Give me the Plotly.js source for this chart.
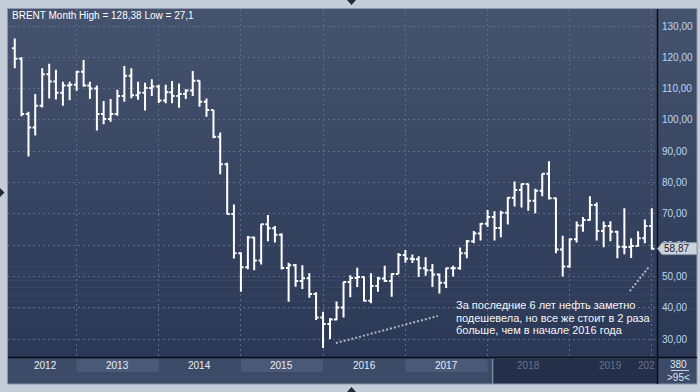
<!DOCTYPE html>
<html><head><meta charset="utf-8">
<script src="https://cdn.plot.ly/plotly-3.0.1.min.js"></script>
<style>html,body{margin:0;padding:0;background:#c4ccd8;}#chart{width:700px;height:392px;}</style>
</head><body><div id="chart"></div>
<script>
// ---- DATA (monthly Brent OHLC) ----
const months = [
 "2012-04","2012-05","2012-06","2012-07","2012-08","2012-09","2012-10","2012-11","2012-12",
 "2013-01","2013-02","2013-03","2013-04","2013-05","2013-06","2013-07","2013-08","2013-09","2013-10","2013-11","2013-12",
 "2014-01","2014-02","2014-03","2014-04","2014-05","2014-06","2014-07","2014-08","2014-09","2014-10","2014-11","2014-12",
 "2015-01","2015-02","2015-03","2015-04","2015-05","2015-06","2015-07","2015-08","2015-09","2015-10","2015-11","2015-12",
 "2016-01","2016-02","2016-03","2016-04","2016-05","2016-06","2016-07","2016-08","2016-09","2016-10","2016-11","2016-12",
 "2017-01","2017-02","2017-03","2017-04","2017-05","2017-06","2017-07","2017-08","2017-09","2017-10","2017-11","2017-12",
 "2018-01","2018-02","2018-03","2018-04","2018-05","2018-06","2018-07","2018-08","2018-09","2018-10","2018-11","2018-12",
 "2019-01","2019-02","2019-03","2019-04","2019-05","2019-06","2019-07","2019-08","2019-09","2019-10","2019-11","2019-12",
 "2020-01"];
const openP = [
 122.9,119.5,101.9,97.6,104.5,114.6,112.3,108.7,111.0,
 111.2,115.4,111.0,110.0,101.9,100.3,101.9,107.6,114.1,107.9,108.7,110.2,
 110.7,106.2,108.8,107.6,108.3,109.4,112.5,105.8,103.2,94.6,85.8,69.9,
 57.4,52.9,62.4,55.1,66.7,65.4,63.3,52.7,53.6,48.5,49.4,44.4,
 36.9,34.8,36.2,40.1,48.2,49.5,49.8,42.2,46.9,49.3,48.5,50.8,
 56.8,55.6,55.5,52.6,52.0,50.6,48.0,52.6,52.6,57.4,61.2,63.7,
 66.8,69.0,65.5,70.3,75.1,77.6,79.5,74.2,77.4,82.8,75.0,58.6,
 53.2,61.9,66.3,68.0,72.8,64.5,66.1,64.3,59.5,59.4,59.7,62.2,
 66.1];
const highP = [
 126.0,120.0,102.6,108.3,116.5,117.9,116.0,112.2,112.2,
 115.6,119.1,112.2,111.0,106.0,106.7,109.6,117.2,116.5,112.2,111.9,113.0,
 111.2,111.2,112.4,111.6,109.8,115.6,112.6,106.8,103.2,96.0,86.3,73.0,
 57.7,62.9,62.7,66.8,69.6,66.1,63.8,54.4,54.0,53.6,51.0,44.9,
 38.7,36.7,42.0,48.3,50.4,52.8,50.0,51.0,49.9,53.4,51.0,57.5,
 58.4,57.0,56.4,56.1,54.0,50.9,52.8,53.4,59.2,61.6,64.5,67.1,
 71.2,70.8,71.0,75.4,80.3,79.7,79.6,78.0,82.9,86.8,75.2,63.0,
 62.2,67.5,69.0,75.6,73.6,67.5,67.6,64.6,71.8,62.2,64.4,68.2,
 71.8];
const lowP = [
 116.5,101.2,88.3,95.0,104.0,106.8,106.5,104.5,106.3,
 109.3,110.6,106.7,96.6,98.6,99.4,101.3,105.8,106.9,106.4,103.0,107.6,
 105.4,105.3,105.3,103.9,106.7,107.6,104.2,101.0,94.1,82.6,69.8,55.7,
 45.1,52.3,52.0,53.8,61.2,60.8,52.2,41.9,46.7,46.0,43.2,36.1,
 27.1,30.0,36.0,36.9,43.3,46.6,42.0,41.4,45.1,48.2,43.5,50.8,
 54.4,54.3,49.8,50.2,46.6,44.5,46.3,50.0,52.1,55.8,60.6,61.5,
 65.8,61.5,62.5,66.6,72.3,72.0,71.0,70.2,75.6,74.6,57.4,50.0,
 52.8,60.8,64.3,67.8,61.5,59.3,61.2,55.8,57.1,55.9,59.5,60.6,
 58.6];
const closeP = [
 119.5,101.9,97.6,104.5,114.6,112.3,108.7,111.0,111.2,
 115.4,111.0,110.0,101.9,100.3,101.9,107.6,114.1,107.9,108.7,110.2,110.7,
 106.2,108.8,107.6,108.3,109.4,112.5,105.8,103.2,94.6,85.8,69.9,57.4,
 52.9,62.4,55.1,66.7,65.4,63.3,52.7,53.6,48.5,49.4,44.4,36.9,
 34.8,36.2,40.1,48.2,49.5,49.8,42.2,46.9,49.3,48.5,50.8,56.8,
 55.6,55.5,52.6,52.0,50.6,48.0,52.6,52.6,57.4,61.2,63.7,66.8,
 69.0,65.5,70.3,75.1,77.6,79.5,74.2,77.4,82.8,75.0,58.6,53.2,
 61.9,66.3,68.0,72.8,64.5,66.1,64.3,59.5,59.4,59.7,62.2,66.1,
 58.87];
const yearLabels = ["2012","2013","2014","2015","2016","2017","2018","2019","2020"];
const titleText = "BRENT Month High = 128,38 Low = 27,1";
const noteLines = ["За последние 6 лет нефть заметно",
                   "подешевела, но все же стоит в 2 раза",
                   "больше, чем в начале 2016 года"];
const cornerTop = "380", cornerBottom = ">95<";

// ---- GEOMETRY HELPERS ----
const L = 8, R = 657, T = 9, B = 357;
const PW = R - L, PH = B - T;
const px = x => (x - L) / PW;
const py = y => (B - y) / PH;
const xRange = ["2012-03-02", "2020-01-24"];
const yRange = [24.25, 135.43];

const shapes = [];
// gradient background (strips)
const cTop = [70, 83, 110], cBot = [43, 56, 86];
const N = 50, g0 = 8, g1 = 357;
for (let i = 0; i < N; i++) {
  const y0 = g0 + i * (g1 - g0) / N, y1 = y0 + (g1 - g0) / N + 0.6;
  const t = i / (N - 1);
  const c = cTop.map((v, k) => Math.round(v + (cBot[k] - v) * t));
  shapes.push({type:'rect', xref:'paper', yref:'paper', x0:px(7), x1:px(697), y0:py(Math.min(y1, g1)), y1:py(y0),
    fillcolor:`rgb(${c[0]},${c[1]},${c[2]})`, line:{width:0}, layer:'below'});
}
// bottom band
shapes.push({type:'rect', xref:'paper', yref:'paper', x0:px(7), x1:px(697), y0:py(384), y1:py(357),
  fillcolor:'#3c4b67', line:{width:0}, layer:'below'});
yearLabels.forEach((yl, i) => {
  if (i % 2 === 1 && +yl < 2018) {
    shapes.push({type:'rect', xref:'x', yref:'paper', x0:`${yl}-01-01`, x1:`${+yl + 1}-01-01`,
      y0:py(372), y1:py(359), fillcolor:'#4a5977', line:{width:0}, layer:'below'});
  }
});
// dark (inactive) region of the time band
shapes.push({type:'rect', xref:'paper', yref:'paper', x0:px(494), x1:px(657), y0:py(384), y1:py(359),
  fillcolor:'#24304a', line:{width:0}, layer:'below'});
shapes.push({type:'line', xref:'paper', yref:'paper', x0:px(492.5), x1:px(492.5), y0:py(384), y1:py(359),
  line:{color:'#7f8ca3', width:1}, layer:'below'});
// frame outline
shapes.push({type:'rect', xref:'paper', yref:'paper', x0:px(7.5), x1:px(697), y0:py(384), y1:py(8.5),
  fillcolor:'rgba(0,0,0,0)', line:{color:'#8d98ac', width:1}, layer:'below'});
// axis separator lines
shapes.push({type:'line', xref:'paper', yref:'paper', x0:px(8), x1:px(697), y0:py(357.5), y1:py(357.5),
  line:{color:'#0a0e16', width:1.5}, layer:'above'});
shapes.push({type:'line', xref:'paper', yref:'paper', x0:px(657.5), x1:px(657.5), y0:py(384), y1:py(9),
  line:{color:'#0a0e16', width:1.5}, layer:'above'});
// corner divider
shapes.push({type:'line', xref:'paper', yref:'paper', x0:px(671), x1:px(689), y0:py(370.5), y1:py(370.5),
  line:{color:'#c9d2df', width:1}, layer:'above'});
// dotted trend lines (drawn by the author)
shapes.push({type:'line', xref:'x', yref:'y', x0:'2016-02-27', y0:28.7, x1:'2017-05-25', y1:37.35,
  line:{color:'#aeb6c4', width:2, dash:'2px,2px'}, layer:'above'});
shapes.push({type:'line', xref:'x', yref:'y', x0:'2019-09-25', y0:45.3, x1:'2019-12-22', y1:53.3,
  line:{color:'#aeb6c4', width:2, dash:'2px,2px'}, layer:'above'});
// last price marker
const lastC = closeP[closeP.length - 1];
const hh = 1.9;
shapes.push({type:'path', xref:'paper', yref:'y', layer:'above',
  path:`M ${px(657.5)},${lastC} L ${px(662)},${lastC + hh} L ${px(697)},${lastC + hh} L ${px(697)},${lastC - hh} L ${px(662)},${lastC - hh} Z`,
  fillcolor:'#cdd3dc', line:{color:'#8e99aa', width:1}});
// splitter handles
shapes.push({type:'path', xref:'paper', yref:'paper', layer:'above',
  path:`M ${px(347)},${py(0)} L ${px(356)},${py(0)} L ${px(351.5)},${py(5)} Z`, fillcolor:'#1e2840', line:{width:0}});
shapes.push({type:'path', xref:'paper', yref:'paper', layer:'above',
  path:`M ${px(347)},${py(392)} L ${px(356)},${py(392)} L ${px(351.5)},${py(387)} Z`, fillcolor:'#1e2840', line:{width:0}});
shapes.push({type:'path', xref:'paper', yref:'paper', layer:'above',
  path:`M ${px(0)},${py(188)} L ${px(0)},${py(197)} L ${px(4.5)},${py(192.5)} Z`, fillcolor:'#1e2840', line:{width:0}});

// ---- ANNOTATIONS ----
const FONT = 'Liberation Sans, Arial, sans-serif';
const ann = [];
ann.push({xref:'paper', yref:'paper', x:px(10), y:py(15), xanchor:'left', yanchor:'middle', showarrow:false,
  text:titleText, font:{family:FONT, size:10, color:'#ffffff'}});
const t0 = Date.parse(xRange[0]), t1 = Date.parse(xRange[1]);
yearLabels.forEach((yl, i) => {
  const a = Math.max(Date.parse(`${yl}-01-01`), t0);
  const b = Math.min(Date.parse(`${+yl + 1}-01-01`), t1);
  const isLast = i === yearLabels.length - 1;
  const dim = +yl >= 2018;
  ann.push({xref: isLast ? 'paper' : 'x', yref:'paper',
    x: isLast ? px(656.5) : new Date((a + b) / 2 + (i === 0 ? 4 * 864e5 * 4 : 0)).toISOString().slice(0, 10),
    y:py(365), xanchor: isLast ? 'right' : 'center', yanchor:'middle', showarrow:false,
    text: isLast ? yl.slice(0, 3) : yl,
    font:{family:FONT, size:10, color: dim ? '#66738b' : '#e6ecf5'}});
});
noteLines.forEach((ln, i) => {
  ann.push({xref:'paper', yref:'paper', x:px(454), y:py(305 + i * 12.5), xanchor:'left', yanchor:'middle',
    showarrow:false, text:ln, font:{family:FONT, size:11, color:'#f4f6fa'}});
});
ann.push({xref:'paper', yref:'paper', x:px(679), y:py(364.5), xanchor:'center', yanchor:'middle', showarrow:false,
  text:cornerTop, font:{family:FONT, size:10, color:'#dfe5ee'}});
ann.push({xref:'paper', yref:'paper', x:px(679), y:py(377), xanchor:'center', yanchor:'middle', showarrow:false,
  text:cornerBottom, font:{family:FONT, size:10, color:'#dfe5ee'}});
ann.push({xref:'paper', yref:'y', x:px(662), y:lastC, xanchor:'left', yanchor:'middle', showarrow:false,
  text:lastC.toFixed(2).replace('.', ','), font:{family:FONT, size:10, color:'#1a2232'}});

// ---- TRACE ----
const trace = {
  type:'ohlc', x: months.map(m => m + '-01'), open: openP, high: highP, low: lowP, close: closeP,
  increasing:{line:{color:'#ffffff', width:2}}, decreasing:{line:{color:'#ffffff', width:2}},
  tickwidth:0.42, hoverinfo:'skip', showlegend:false
};

const layout = {
  width:700, height:392, margin:{l:L, r:700 - R, t:T, b:392 - B, pad:0},
  paper_bgcolor:'#c4ccd8', plot_bgcolor:'rgba(0,0,0,0)',
  separators:', ', font:{family:FONT},
  showlegend:false,
  xaxis:{type:'date', range:xRange, showgrid:true, gridcolor:'#5c6b88', griddash:'2px,3px', gridwidth:1,
    dtick:'M12', tick0:'2012-01-01', showticklabels:false, ticks:'', zeroline:false, showline:false,
    rangeslider:{visible:false}, fixedrange:true},
  yaxis:{side:'right', range:yRange, dtick:10, tick0:0, tickformat:'.2f', showgrid:true, gridcolor:'#5c6b88',
    griddash:'2px,3px', gridwidth:1, ticks:'', ticklabelstandoff:4, zeroline:false, showline:false,
    tickfont:{family:FONT, size:10, color:'#bcd6f2'}, fixedrange:true},
  shapes: shapes, annotations: ann
};
Plotly.newPlot('chart', [trace], layout, {staticPlot:true, displayModeBar:false});
</script></body></html>
